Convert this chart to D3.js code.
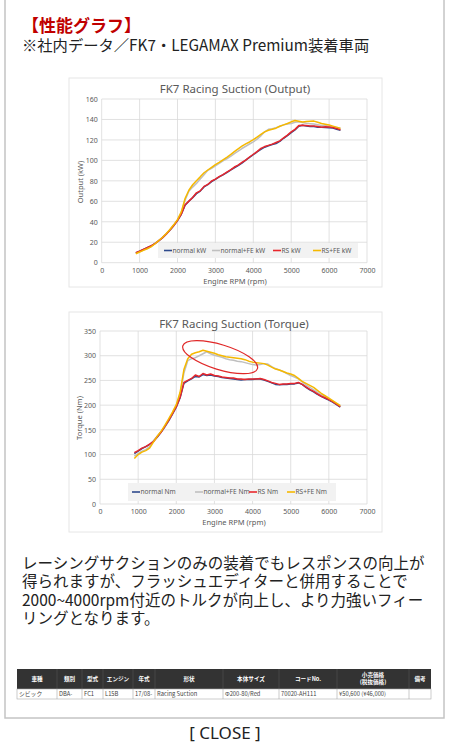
<!DOCTYPE html>
<html><head><meta charset="utf-8">
<script src="https://cdn.jsdelivr.net/npm/d3@7"></script>
<style>
html,body{margin:0;padding:0;background:#fff;}
#wrap{position:relative;width:449px;height:750px;overflow:hidden;}
svg{display:block;position:absolute;left:0;top:0;}
.htxt{position:absolute;white-space:nowrap;font-family:'Noto Sans CJK JP','Noto Sans',sans-serif;color:#222;}
</style></head>
<body>
<div id="wrap"><svg id="c" width="449" height="750"></svg></div>
<script>
// ---------- DATA ----------
const rpm = [900,1000,1100,1200,1300,1400,1500,1600,1700,1800,1900,2000,2100,2200,2300,2400,2500,2600,2700,2800,2900,3000,3100,3200,3300,3400,3500,3600,3700,3800,3900,4000,4100,4200,4300,4400,4500,4600,4700,4800,4900,5000,5100,5200,5300,5400,5500,5600,5700,5800,5900,6000,6100,6200,6300];

const normalKW   = [9.6,11.2,12.9,14.6,16.3,18.6,21.2,24.3,27.8,31.7,36.2,41.1,47.3,56.2,60.0,63.6,67.5,70.0,74.1,76.3,79.3,81.4,83.8,85.8,88.1,90.6,92.7,95.0,97.3,100.3,102.9,105.5,108.4,110.8,112.9,114.3,115.5,116.5,118.6,121.6,124.2,127.2,129.8,133.4,134.3,133.5,133.0,133.1,132.5,132.4,132.2,131.9,131.6,130.5,129.3];
const normalFEKW = [9.1,10.7,12.3,13.8,15.8,18.8,21.5,24.5,28.0,32.0,36.6,41.7,48.8,61.1,69.8,73.9,77.5,81.7,86.0,90.3,92.3,94.6,97.1,99.5,101.6,104.0,106.7,109.0,111.6,113.8,116.0,118.1,120.7,124.0,127.9,130.4,131.0,132.0,133.4,134.7,135.5,136.1,137.3,137.8,137.1,136.3,135.9,135.5,134.9,134.2,134.1,133.2,132.9,131.8,131.3];
const rsKW       = [9.8,11.3,13.0,14.6,16.5,18.5,21.4,24.3,27.9,31.9,36.4,41.3,47.5,56.7,60.2,63.8,68.3,70.2,74.6,76.5,79.9,81.7,84.1,86.1,88.5,90.8,93.5,95.4,98.0,100.3,103.3,106.0,108.6,111.7,113.5,114.7,115.9,117.5,119.1,122.1,124.7,127.8,130.3,134.0,134.3,134.0,133.6,133.7,133.1,132.4,132.8,132.6,132.2,131.2,130.0];
const rsFEKW     = [8.7,10.5,12.1,13.6,15.4,18.3,21.5,24.6,28.3,32.4,37.0,42.1,49.7,62.7,70.8,76.2,80.1,83.9,87.9,90.6,93.2,95.8,98.0,100.5,103.0,105.7,108.5,111.2,113.9,116.2,118.0,120.2,122.8,125.4,127.9,129.5,130.5,131.5,133.4,134.7,136.0,137.7,138.9,138.3,137.6,138.0,138.2,138.4,137.3,136.1,135.3,134.5,133.5,132.5,131.3];

const normalNm   = [102,107,112,116,120,127,135,145,156,168,182,196,215,244,249,253,258,257,262,260,261,259,258,256,255,254,253,252,251,252,252,252,253,253,251,248,245,242,241,242,242,243,243,245,242,236,231,227,222,218,214,210,206,201,196];
const normalFENm = [97,102,107,110,116,128,137,146,157,170,184,199,222,265,290,294,296,300,304,308,304,301,299,297,294,292,291,289,288,286,284,282,281,282,284,283,278,274,271,268,264,260,257,253,247,241,236,231,226,221,217,212,208,203,199];
const rsNm       = [104,108,113,116,121,126,136,145,157,169,183,197,216,246,250,254,261,258,264,261,263,260,259,257,256,255,255,253,253,252,253,253,253,254,252,249,246,244,242,243,243,244,244,246,242,237,232,228,223,218,215,211,207,202,197];
const rsFENm     = [92,100,105,108,113,125,137,147,159,172,186,201,226,272,294,303,306,308,311,309,307,305,302,300,298,297,296,295,294,292,289,287,286,285,284,281,277,273,271,268,265,263,260,254,248,244,240,236,230,224,219,214,209,204,199];

const xTicks = [0,1000,2000,3000,4000,5000,6000,7000];
const kwTicks = [0,20,40,60,80,100,120,140,160];
const nmTicks = [0,50,100,150,200,250,300,350];
const kwLegend = ["normal kW","normal+FE kW","RS kW","RS+FE kW"];
const nmLegend = ["normal Nm","normal+FE Nm","RS Nm","RS+FE Nm"];
const seriesColors = ["#2e4a8c","#bfbfbf","#e8262b","#f5b800"];

const tableHead = ["車種","類別","型式","エンジン","年式","形状","本体サイズ","コードNo.","小売価格|(税抜価格)","備考"];
const tableRow  = ["シビック","DBA-","FC1","L15B","17/08-","Racing Suction","Φ200-80/Red","70020-AH111","¥50,600 (¥46,000)",""];
const tableCols = [17,57,82,103,133,155,223,279,337,409,431];

const heading = "【性能グラフ】";
const subheading = "※社内データ／FK7・LEGAMAX Premium装着車両";
const paragraph = ["レーシングサクションのみの装着でもレスポンスの向上が","得られますが、フラッシュエディターと併用することで","2000~4000rpm付近のトルクが向上し、より力強いフィー","リングとなります。"];

// ---------- DRAW ----------
const svg = d3.select("#c");
const wrap = d3.select("#wrap");
const JP = "'Noto Sans CJK JP','Noto Sans',sans-serif";
const CH = "'Noto Sans','DejaVu Sans',sans-serif";
svg.append("rect").attr("width",449).attr("height",750).attr("fill","#fff");

svg.append("rect").attr("x",5).attr("y",-10).attr("width",439).attr("height",728)
  .attr("fill","none").attr("stroke","#c4c4c4").attr("stroke-width",1.5);

// heading (HTML text, tight line boxes)
wrap.append("div").attr("class","htxt")
  .style("left","22px").style("top","15.1px").style("font-size","17px").style("line-height","19px")
  .style("font-weight","bold").style("color","#c00000").text(heading);
wrap.append("div").attr("class","htxt")
  .style("left","22px").style("top","34.8px").style("font-size","15.3px").style("line-height","19px")
  .text(subheading);

function drawChart(cfg){
  const g = svg.append("g");
  g.append("rect").attr("x",cfg.box[0]).attr("y",cfg.box[1]).attr("width",cfg.box[2]-cfg.box[0])
    .attr("height",cfg.box[3]-cfg.box[1]).attr("fill","#fff").attr("stroke","#e6e6e6").attr("stroke-width",1);
  const x = d3.scaleLinear().domain([0,7000]).range([cfg.px0,cfg.px1]);
  const y = d3.scaleLinear().domain([0,cfg.ymax]).range([cfg.py0,cfg.py1]);
  g.selectAll(".hg").data(cfg.yTicks).join("line")
    .attr("x1",cfg.px0).attr("x2",cfg.px1).attr("y1",d=>y(d)).attr("y2",d=>y(d))
    .attr("stroke","#d9d9d9").attr("stroke-width",0.8);
  g.selectAll(".vg").data(xTicks).join("line")
    .attr("y1",cfg.py0).attr("y2",cfg.py1).attr("x1",d=>x(d)).attr("x2",d=>x(d))
    .attr("stroke","#d9d9d9").attr("stroke-width",0.8);
  const ya = g.append("g").attr("transform",`translate(${cfg.px0},0)`)
    .call(d3.axisLeft(y).tickValues(cfg.yTicks).tickSize(0).tickPadding(4));
  const xa = g.append("g").attr("transform",`translate(0,${cfg.py0})`)
    .call(d3.axisBottom(x).tickValues(xTicks).tickSize(0).tickPadding(5).tickFormat(d3.format("d")));
  [ya,xa].forEach(a=>{a.select(".domain").remove();
    a.selectAll("text").attr("font-family",CH).attr("font-size",7).attr("fill","#595959");});
  const line = d3.line().x((d,i)=>x(rpm[i])).y(d=>y(d));
  cfg.series.forEach((s,k)=>{
    g.append("path").datum(s).attr("d",line).attr("fill","none")
      .attr("stroke",seriesColors[k]).attr("stroke-width",1.5).attr("stroke-linejoin","round");
  });
  g.append("text").attr("x",cfg.titleX).attr("y",cfg.titleY).attr("text-anchor","middle")
    .attr("font-family",CH).attr("font-size",11.5).attr("fill","#595959").text(cfg.title);
  g.append("text").attr("x",cfg.titleX).attr("y",cfg.xTitleY).attr("text-anchor","middle")
    .attr("font-family",CH).attr("font-size",7.5).attr("fill","#595959").text("Engine RPM (rpm)");
  g.append("text").attr("transform",`translate(${cfg.yTitleX},${cfg.yTitleY}) rotate(-90)`)
    .attr("text-anchor","middle").attr("font-family",CH).attr("font-size",7.5).attr("fill","#595959").text(cfg.yTitle);
  const L = cfg.legend;
  g.append("rect").attr("x",L.box[0]).attr("y",L.box[1]).attr("width",L.box[2]-L.box[0])
    .attr("height",L.box[3]-L.box[1]).attr("fill","#f2f2f2");
  const ly = (L.box[1]+L.box[3])/2;
  cfg.legendNames.forEach((n,k)=>{
    g.append("line").attr("x1",L.xs[k]).attr("x2",L.xs[k]+8).attr("y1",ly).attr("y2",ly)
      .attr("stroke",seriesColors[k]).attr("stroke-width",1.6);
    g.append("text").attr("x",L.xs[k]+8.5).attr("y",ly+2.4).attr("font-family",CH).attr("font-size",6.6)
      .attr("fill","#595959").text(n);
  });
  return {x,y,g};
}

drawChart({box:[69,78,382,287],px0:101.7,px1:367,py0:262.7,py1:99,ymax:160,yTicks:kwTicks,
  series:[normalKW,normalFEKW,rsKW,rsFEKW],title:"FK7 Racing Suction (Output)",titleX:235,titleY:93,
  xTitleY:283.5,yTitleX:83,yTitleY:182,yTitle:"Output (kW)",legendNames:kwLegend,
  legend:{box:[158,243,358,258],xs:[164,212,273,313]}});

const t = drawChart({box:[69,312,382,532],px0:100,px1:367,py0:504,py1:331,ymax:350,yTicks:nmTicks,
  series:[normalNm,normalFENm,rsNm,rsFENm],title:"FK7 Racing Suction (Torque)",titleX:234,titleY:327.5,
  xTitleY:524.5,yTitleX:82,yTitleY:418,yTitle:"Torque (Nm)",legendNames:nmLegend,
  legend:{box:[128,483,336,501],xs:[132,195,249,287]}});

t.g.append("ellipse").attr("cx",t.x(3150)).attr("cy",t.y(297)).attr("rx",39).attr("ry",12.5)
  .attr("transform",`rotate(17,${t.x(3150)},${t.y(297)})`)
  .attr("fill","none").attr("stroke","#e02828").attr("stroke-width",1.2);

// paragraph (HTML block, line-height 18.5px)
wrap.append("div").attr("class","htxt")
  .style("left","22px").style("top","552.5px").style("font-size","15.5px").style("line-height","18.5px")
  .html(paragraph.map(s=>s.replace(/&/g,"&amp;").replace(/</g,"&lt;")).join("<br>"));

const hy0=669, hy1=689, ry1=699;
const tg = svg.append("g");
tg.append("rect").attr("x",tableCols[0]).attr("y",hy0).attr("width",tableCols[10]-tableCols[0])
  .attr("height",hy1-hy0).attr("fill","#333");
tableHead.forEach((h,i)=>{
  const cx=(tableCols[i]+tableCols[i+1])/2;
  const parts=h.split("|");
  const ht = tg.append("text").attr("text-anchor","middle").attr("font-family",JP).attr("font-size",5.6)
      .attr("font-weight","bold").attr("fill","#fff");
  parts.forEach((p,j)=>{
    ht.append("tspan").attr("x",cx).attr("y",parts.length>1? hy0+8+j*7 : hy0+12.2).text(p);
  });
  if(i>0) tg.append("line").attr("x1",tableCols[i]).attr("x2",tableCols[i]).attr("y1",hy0).attr("y2",hy1)
      .attr("stroke","#555").attr("stroke-width",0.6);
});
tg.append("rect").attr("x",tableCols[0]).attr("y",hy1).attr("width",tableCols[10]-tableCols[0])
  .attr("height",ry1-hy1).attr("fill","#fff").attr("stroke","#aaa").attr("stroke-width",0.6);
tableRow.forEach((v,i)=>{
  if(i>0) tg.append("line").attr("x1",tableCols[i]).attr("x2",tableCols[i]).attr("y1",hy1).attr("y2",ry1)
      .attr("stroke","#aaa").attr("stroke-width",0.6);
  tg.append("text").attr("x",tableCols[i]+2).attr("y",hy1+7).attr("font-family",JP).attr("font-size",5.8)
    .attr("fill","#444").text(v);
});

svg.append("text").attr("x",225).attr("y",739).attr("text-anchor","middle").attr("font-family",CH)
  .attr("font-size",17).attr("fill","#222").text("[ CLOSE ]");
</script>
</body></html>
